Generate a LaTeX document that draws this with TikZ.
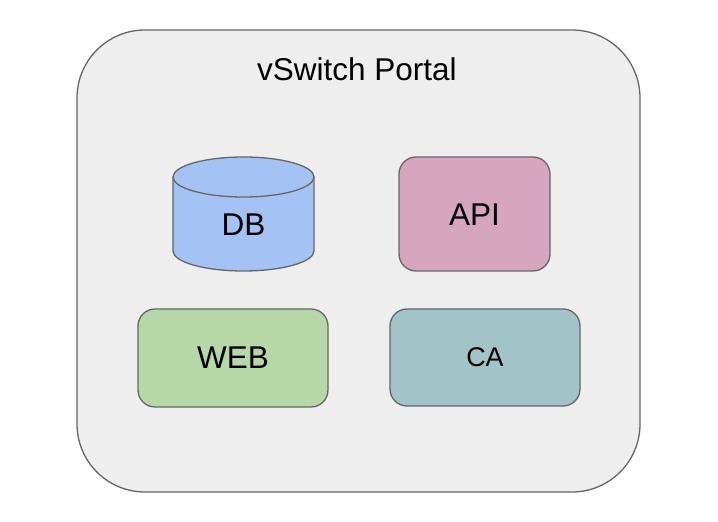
\documentclass[tikz,border=0pt]{standalone}
\usepackage{fontspec}
\setmainfont{Liberation Sans}
\definecolor{outerfill}{HTML}{EEEEEE}
\definecolor{edge}{HTML}{666666}
\definecolor{dbfill}{HTML}{A4C2F4}
\definecolor{apifill}{HTML}{D5A6BD}
\definecolor{webfill}{HTML}{B6D7A8}
\definecolor{cafill}{HTML}{A2C4C9}
\begin{document}
\begin{tikzpicture}[x=1pt,y=1pt,
  box/.style={draw=edge, line width=1.3pt, rounded corners=17pt, inner sep=0pt},
  lbl/.style={font=\fontsize{31.5}{37}\selectfont, inner sep=0pt}]
\useasboundingbox (0,0) rectangle (718,522);
\fill[white] (0,0) rectangle (718,522);
% outer container
\draw[draw=edge, line width=1.3pt, fill=outerfill, rounded corners=68pt] (77,30) rectangle (640,492);
\node[lbl, anchor=base] (title) at (357,441) {vSwitch Portal};
% DB cylinder
\fill[dbfill] (173,345) -- (173,271) arc[start angle=180,end angle=360,x radius=70.5pt,y radius=20pt] -- (314,345) arc[start angle=0,end angle=180,x radius=70.5pt,y radius=20pt] -- cycle;
\draw[edge, line width=1.3pt] (173,345) -- (173,271) arc[start angle=180,end angle=360,x radius=70.5pt,y radius=20pt] -- (314,345);
\draw[edge, line width=1.3pt] (243.5,345) ellipse [x radius=70.5pt, y radius=20pt];
\node[lbl] (db) at (243.5,297) {DB};
% API
\node[box, fill=apifill, minimum width=151pt, minimum height=114pt] (api) at (474.5,308) {};
\node[lbl] (apit) at (474.5,307) {API};
% WEB
\node[box, fill=webfill, minimum width=190pt, minimum height=98pt] (web) at (233,164) {};
\node[lbl] (webt) at (233,164) {WEB};
% CA
\node[box, fill=cafill, minimum width=190pt, minimum height=97pt] (ca) at (485,164.5) {};
\node[lbl, font=\fontsize{27}{32}\selectfont] (cat) at (485,164.5) {CA};
\end{tikzpicture}
\end{document}
